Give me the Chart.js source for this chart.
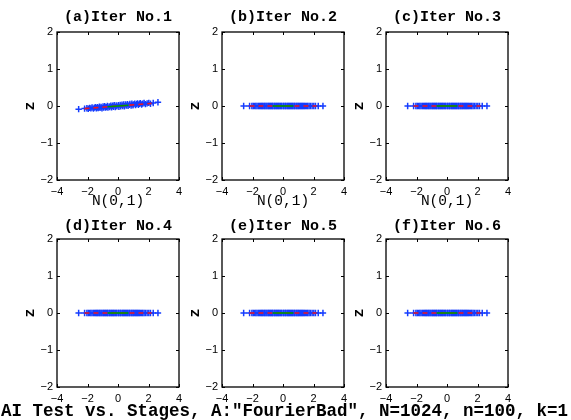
<!DOCTYPE html>
<html>
<head>
<meta charset="utf-8">
<script src="https://cdn.jsdelivr.net/npm/chart.js@4.4.0/dist/chart.umd.min.js"></script>
<style>
body { margin: 0; background: #fff; width: 571px; height: 420px; overflow: hidden; position: relative; }
canvas { position: absolute; }
#suptitle { position: absolute; left: 1px; top: 400px; font: bold 17.5px "Liberation Mono"; line-height: 22px; white-space: nowrap; color: #000; z-index: 5; }
</style>
</head>
<body>
<div id="suptitle">AI Test vs. Stages, A:"FourierBad", N=1024, n=100, k=1</div>
<script>
// N(0,1) quantiles on the x axis (same for every panel)
var normQ = [-2.58, -2.19, -2.04, -1.95, -1.86, -1.78, -1.70, -1.61, -1.55, -1.47, -1.42, -1.35, -1.30, -1.22, -1.18, -1.11, -1.05,
             -0.98, -0.94, -0.87, -0.82, -0.76, -0.70, -0.66, -0.58, -0.54, -0.47, -0.42, -0.36, -0.30, -0.25, -0.18, -0.12, -0.07,
             0.02, 0.06, 0.14, 0.18, 0.26, 0.31, 0.38, 0.42, 0.50, 0.54, 0.62, 0.66, 0.74, 0.78, 0.86, 0.91, 0.98,
             1.02, 1.10, 1.15, 1.22, 1.27, 1.34, 1.40, 1.47, 1.55, 1.62, 1.71, 1.80, 1.91, 2.02, 2.13, 2.31, 2.62];

// z values, iteration 1 (slightly tilted)
var iter1Z = [-0.085, -0.07, -0.06, -0.075, -0.05, -0.065, -0.04, -0.07, -0.045, -0.03, -0.06, -0.035, -0.055, -0.02, -0.05, -0.025, -0.06,
              -0.015, -0.045, -0.005, -0.04, -0.03, 0.0, -0.045, -0.01, -0.03, 0.01, -0.035, 0.005, -0.02, 0.02, -0.025, 0.015, -0.01,
              0.025, -0.02, 0.03, -0.005, 0.035, 0.0, 0.04, -0.005, 0.045, 0.01, 0.05, 0.005, 0.03, 0.055, 0.015, 0.06, 0.02,
              0.045, 0.065, 0.025, 0.05, 0.07, 0.035, 0.06, 0.075, 0.04, 0.065, 0.08, 0.05, 0.07, 0.085, 0.06, 0.08, 0.1];

// z values, iterations 2..6 (flat)
var flatZ = [0, 0, 0, 0, 0, 0, 0, 0, 0, 0, 0, 0, 0, 0, 0, 0, 0,
             0, 0, 0, 0, 0, 0, 0, 0, 0, 0, 0, 0, 0, 0, 0, 0, 0,
             0, 0, 0, 0, 0, 0, 0, 0, 0, 0, 0, 0, 0, 0, 0, 0, 0,
             0, 0, 0, 0, 0, 0, 0, 0, 0, 0, 0, 0, 0, 0, 0, 0, 0];

var panelTitles = ['(a)Iter No.1', '(b)Iter No.2', '(c)Iter No.3', '(d)Iter No.4', '(e)Iter No.5', '(f)Iter No.6'];
var panelZ = [iter1Z, flatZ, flatZ, flatZ, flatZ, flatZ];

// reference lines (red dashed full fit, green between quartiles)
var redLineX = [-2.2, 2.2];
var redLineY = [[-0.07, 0.07], [0, 0], [0, 0], [0, 0], [0, 0], [0, 0]];
var greenLineX = [-0.68, 0.68];
var greenLineY = [[-0.022, 0.022], [0, 0], [0, 0], [0, 0], [0, 0], [0, 0]];

var xTicks = [-4, -2, 0, 2, 4];
var yTicks = [-2, -1, 0, 1, 2];

var boxLeft = [57, 222, 386];
var boxTop = [32, 239];

function pts(xs, ys) {
    var out = [];
    for (var i = 0; i < xs.length; i++) out.push({x: xs[i], y: ys[i]});
    return out;
}

function minus(v) {
    return v < 0 ? '\u2212' + Math.abs(v) : '' + v;
}

// box around the axes + inward tick marks, matlab style
var frame = {
    id: 'frame',
    afterDatasetsDraw: function (chart) {
        var ctx = chart.ctx, a = chart.chartArea;
        var sx = chart.scales.x, sy = chart.scales.y;
        ctx.save();
        ctx.strokeStyle = '#000';
        ctx.lineWidth = 1;
        xTicks.forEach(function (t) {
            var px = Math.round(sx.getPixelForValue(t)) + 0.5;
            ctx.beginPath();
            ctx.moveTo(px, a.bottom); ctx.lineTo(px, a.bottom - 3);
            ctx.moveTo(px, a.top); ctx.lineTo(px, a.top + 3);
            ctx.stroke();
        });
        yTicks.forEach(function (t) {
            var py = Math.round(sy.getPixelForValue(t)) + 0.5;
            ctx.beginPath();
            ctx.moveTo(a.left, py); ctx.lineTo(a.left + 3, py);
            ctx.moveTo(a.right, py); ctx.lineTo(a.right - 3, py);
            ctx.stroke();
        });
        ctx.lineWidth = 1.3;
        ctx.strokeRect(a.left, a.top, a.right - a.left, a.bottom - a.top);
        ctx.restore();
    }
};

for (var p = 0; p < 6; p++) {
    var col = p % 3, row = Math.floor(p / 3);
    var cv = document.createElement('canvas');
    cv.width = 236;
    cv.height = 210;
    cv.style.left = (boxLeft[col] - 57) + 'px';
    cv.style.top = (boxTop[row] - 32) + 'px';
    document.body.appendChild(cv);

    new Chart(cv.getContext('2d'), {
        type: 'scatter',
        data: {
            datasets: [{
                type: 'line',
                data: pts(greenLineX, greenLineY[p]),
                borderColor: 'rgb(0,150,0)',
                borderWidth: 1.6,
                pointRadius: 0,
                fill: false
            }, {
                type: 'line',
                data: pts(redLineX, redLineY[p]),
                borderColor: 'rgb(240,20,30)',
                borderWidth: 1.6,
                borderDash: [5, 4],
                pointRadius: 0,
                fill: false
            }, {
                data: pts(normQ, panelZ[p]),
                pointStyle: 'cross',
                pointRadius: 3.2,
                pointBorderColor: 'rgb(20,60,255)',
                pointBorderWidth: 1.5,
                showLine: false
            }]
        },
        options: {
            responsive: false,
            animation: false,
            layout: {autoPadding: false, padding: 0},
            plugins: {
                legend: {display: false},
                tooltip: {enabled: false},
                title: {
                    display: true,
                    text: panelTitles[p],
                    color: '#000',
                    font: {family: 'Liberation Mono', weight: 'bold', size: 15},
                    padding: row === 0 ? {top: 8, bottom: 6} : {top: 10, bottom: 4}
                }
            },
            scales: {
                x: {
                    type: 'linear',
                    min: -4, max: 4,
                    afterBuildTicks: function (s) { s.ticks = xTicks.map(function (v) { return {value: v}; }); },
                    afterFit: function (s) { s.height = 30; },
                    grid: {display: false, drawTicks: false, tickLength: 0},
                    border: {display: false},
                    ticks: {
                        color: '#000', padding: 5, maxRotation: 0,
                        font: {family: 'Liberation Sans', size: 11},
                        callback: function (v) { return minus(v); }
                    },
                    title: {
                        display: row === 0,
                        text: 'N(0,1)',
                        color: '#000',
                        font: {family: 'Liberation Mono', size: 14.5},
                        padding: {top: 0, bottom: 0}
                    }
                },
                y: {
                    type: 'linear',
                    min: -2, max: 2,
                    afterBuildTicks: function (s) { s.ticks = yTicks.map(function (v) { return {value: v}; }); },
                    afterFit: function (s) { s.width = 57; },
                    grid: {display: false, drawTicks: false, tickLength: 0},
                    border: {display: false},
                    ticks: {
                        color: '#000', padding: 4,
                        font: {family: 'Liberation Sans', size: 11},
                        callback: function (v) { return minus(v); }
                    },
                    title: {
                        display: true,
                        text: 'z',
                        color: '#000',
                        font: {family: 'Liberation Mono', weight: 'bold', size: 15},
                        padding: {top: 21, bottom: 0}
                    }
                },
                // empty spacer on the right so the panel title centres over the box
                yRight: {
                    type: 'linear',
                    position: 'right',
                    min: -2, max: 2,
                    afterFit: function (s) { s.width = 57; },
                    grid: {display: false, drawTicks: false, tickLength: 0},
                    border: {display: false},
                    ticks: {display: false}
                }
            }
        },
        plugins: [frame]
    });
}
</script>
</body>
</html>
